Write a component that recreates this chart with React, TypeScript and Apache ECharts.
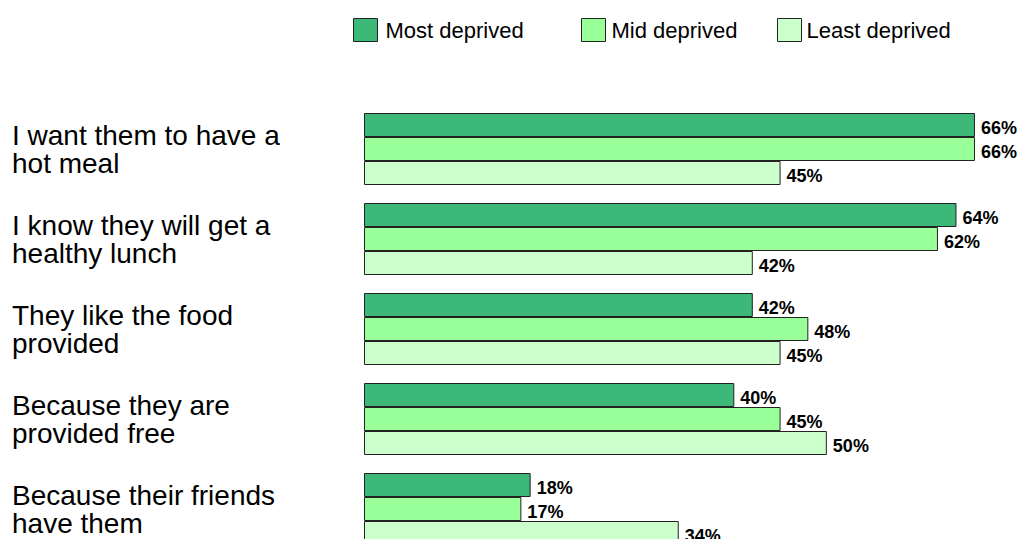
import React, { useEffect, useRef } from "react";
import * as echarts from "echarts";

const categories = [
  "I want them to have a\nhot meal",
  "I know they will get a\nhealthy lunch",
  "They like the food\nprovided",
  "Because they are\nprovided free",
  "Because their friends\nhave them",
];
const seriesNames = ["Most deprived", "Mid deprived", "Least deprived"];
const mostDeprived = [66, 64, 42, 40, 18];
const midDeprived = [66, 62, 48, 45, 17];
const leastDeprived = [45, 42, 45, 50, 34];
const colors = ["#3CB878", "#99FF99", "#CCFFCC"];

const FONT = "'Liberation Sans', Arial, sans-serif";

export default function App() {
  const ref = useRef<HTMLDivElement>(null);
  useEffect(() => {
    if (!ref.current) return;
    const chart = echarts.init(ref.current, undefined, { renderer: "svg" });
    const values = [mostDeprived, midDeprived, leastDeprived];
    const legendLefts = [348, 576, 772];
    const legendTextPad = [
      [0, 0, 0, 3],
      [5, 0, 0, 1],
      [0, 0, 0, 0],
    ];
    chart.setOption({
      animation: false,
      backgroundColor: "#ffffff",
      textStyle: { fontFamily: FONT },
      legend: seriesNames.map((n, i) => ({
        data: [n],
        left: legendLefts[i],
        top: 13,
        itemWidth: 24,
        itemHeight: 23,
        icon: "rect",
        itemStyle: { borderColor: "#222", borderWidth: 1 },
        textStyle: {
          fontFamily: FONT,
          fontSize: 22,
          color: "#000",
          padding: legendTextPad[i],
        },
        selectedMode: false,
      })),
      grid: { left: 364, top: 104, width: 648, height: 450 },
      xAxis: {
        type: "value",
        min: 0,
        max: 70,
        show: false,
        splitLine: { show: false },
      },
      yAxis: {
        type: "category",
        inverse: true,
        data: categories,
        axisLine: { show: false },
        axisTick: { show: false },
        splitLine: { show: false },
        axisLabel: {
          align: "left",
          margin: 352,
          fontSize: 28,
          lineHeight: 28,
          color: "#000",
          fontFamily: FONT,
          padding: [19, 0, 0, 0],
        },
      },
      series: seriesNames.map((n, i) => ({
        name: n,
        type: "bar",
        data: values[i],
        barGap: "0%",
        barCategoryGap: "20%",
        itemStyle: { color: colors[i], borderColor: "#222", borderWidth: 1 },
        label: {
          show: true,
          position: "right",
          distance: 6,
          offset: [0, 3],
          formatter: "{c}%",
          fontFamily: FONT,
          fontWeight: "bold",
          fontSize: 18,
          color: "#000",
        },
      })),
    });
    return () => chart.dispose();
  }, []);
  return (
    <div
      style={{
        position: "absolute",
        left: 0,
        top: 0,
        width: 1028,
        height: 539,
        overflow: "hidden",
      }}
    >
      <div ref={ref} style={{ width: 1028, height: 560 }} />
    </div>
  );
}
